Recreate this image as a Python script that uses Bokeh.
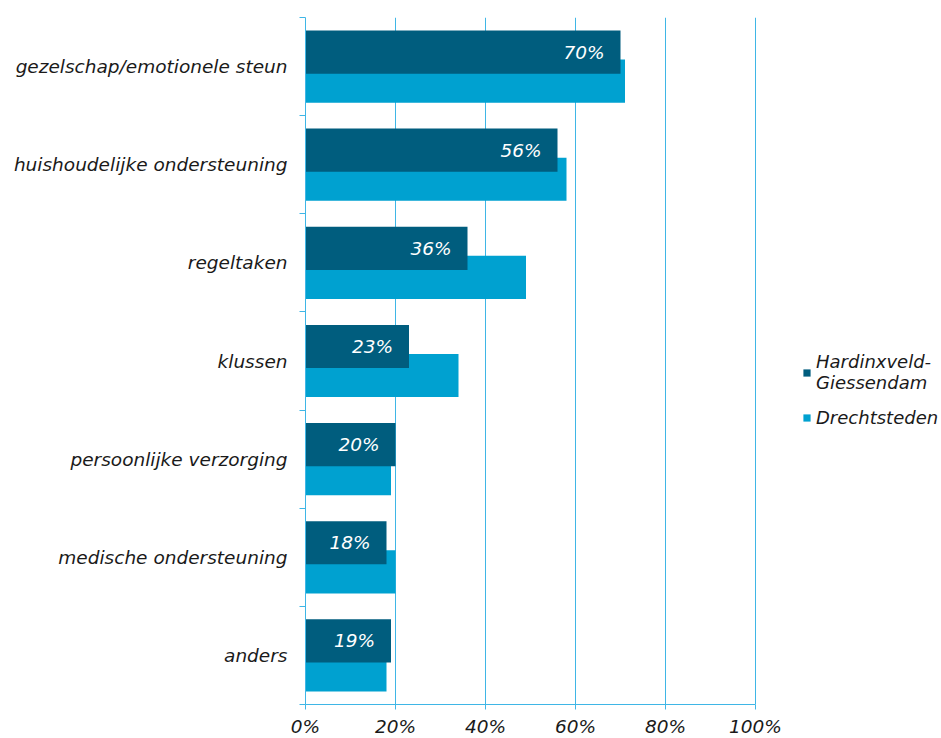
from bokeh.plotting import figure
from bokeh.models import (ColumnDataSource, FixedTicker, Legend, LegendItem,
                          PrintfTickFormatter, LabelSet)
from bokeh.core.properties import value
from bokeh.embed import file_html
from bokeh.resources import INLINE

categories = ["gezelschap/emotionele steun", "huishoudelijke ondersteuning",
              "regeltaken", "klussen", "persoonlijke verzorging",
              "medische ondersteuning", "anders"]
hg_values = [70, 56, 36, 23, 20, 18, 19]
dr_values = [71, 58, 49, 34, 19, 20, 18]
series_names = ["Hardinxveld-\nGiessendam", "Drechtsteden"]
x_ticks = [0, 20, 40, 60, 80, 100]

DARK = "#005d7e"
LIGHT = "#00a1d0"
GRID = "#3fb6e6"
FONT = "DejaVu Sans"
FS = "18.5px"

n = len(categories)
centers = [n - i - 0.5 for i in range(n)]
off = 0.148
src = ColumnDataSource(dict(
    cat=categories,
    hg=hg_values,
    dr=dr_values,
    y_hg=[c + off for c in centers],
    y_dr=[c - off for c in centers],
    lab=["%d%%" % v for v in hg_values],
))

# frame extends to the right so that the legend fits inside it
FW = 636
p = figure(frame_width=FW, frame_height=687, x_range=(0, 100 * FW / 450),
           y_range=(0, n), output_backend="svg", toolbar_location=None,
           min_border_left=305, min_border_top=17, min_border_right=0,
           min_border_bottom=30)
p.outline_line_color = None
p.background_fill_color = "white"

r_dr = p.hbar(y="y_dr", left=0, right="dr", height=0.44, color=LIGHT,
              line_color=None, source=src)
r_hg = p.hbar(y="y_hg", left=0, right="hg", height=0.44, color=DARK,
              line_color=None, source=src)

labels = LabelSet(x="hg", y="y_hg", text="lab", source=src, x_offset=-16,
                  text_align="right", text_baseline="middle",
                  text_color="white", text_font=value(FONT),
                  text_font_size=FS, text_font_style="italic")
p.add_layout(labels)

# x axis
p.xaxis.bounds = (0, 100)
p.xaxis.ticker = FixedTicker(ticks=x_ticks, minor_ticks=[])
p.xaxis.formatter = PrintfTickFormatter(format="%d%%")
p.xaxis.axis_line_color = GRID
p.xaxis.major_tick_line_color = GRID
p.xaxis.major_tick_in = 0
p.xaxis.major_tick_out = 5
p.xaxis.minor_tick_line_color = None
p.xaxis.major_label_standoff = 6
p.xaxis.major_label_text_font = FONT
p.xaxis.major_label_text_font_size = FS
p.xaxis.major_label_text_font_style = "italic"
p.xaxis.major_label_text_color = "#1a1a1a"

# y axis: labels at centers, ticks at boundaries
p.yaxis.ticker = FixedTicker(ticks=centers, minor_ticks=list(range(n + 1)))
p.yaxis.major_label_overrides = {c: cat for c, cat in zip(centers, categories)}
p.yaxis.axis_line_color = GRID
p.yaxis.major_tick_line_color = None
p.yaxis.minor_tick_line_color = GRID
p.yaxis.minor_tick_in = 0
p.yaxis.minor_tick_out = 6
p.yaxis.major_tick_out = 6
p.yaxis.major_tick_in = 0
p.yaxis.major_label_standoff = 12
p.yaxis.major_label_text_font = FONT
p.yaxis.major_label_text_font_size = FS
p.yaxis.major_label_text_font_style = "italic"
p.yaxis.major_label_text_color = "#1a1a1a"

p.xgrid.ticker = FixedTicker(ticks=x_ticks[1:])
p.xgrid.grid_line_color = GRID
p.xgrid.grid_line_width = 1
p.ygrid.grid_line_color = None

legend = Legend(items=[LegendItem(label=series_names[0], renderers=[r_hg]),
                       LegendItem(label=series_names[1], renderers=[r_dr])],
                location=(497, 276), glyph_width=9, glyph_height=9,
                label_standoff=5, padding=0, margin=0, spacing=14,
                border_line_color=None, background_fill_alpha=0,
                label_text_font=FONT, label_text_font_size="18px",
                label_text_line_height=1.3,
                label_text_font_style="italic", label_text_color="#1a1a1a")
p.add_layout(legend, "center")

open("out.html", "w").write(file_html(p, INLINE))
